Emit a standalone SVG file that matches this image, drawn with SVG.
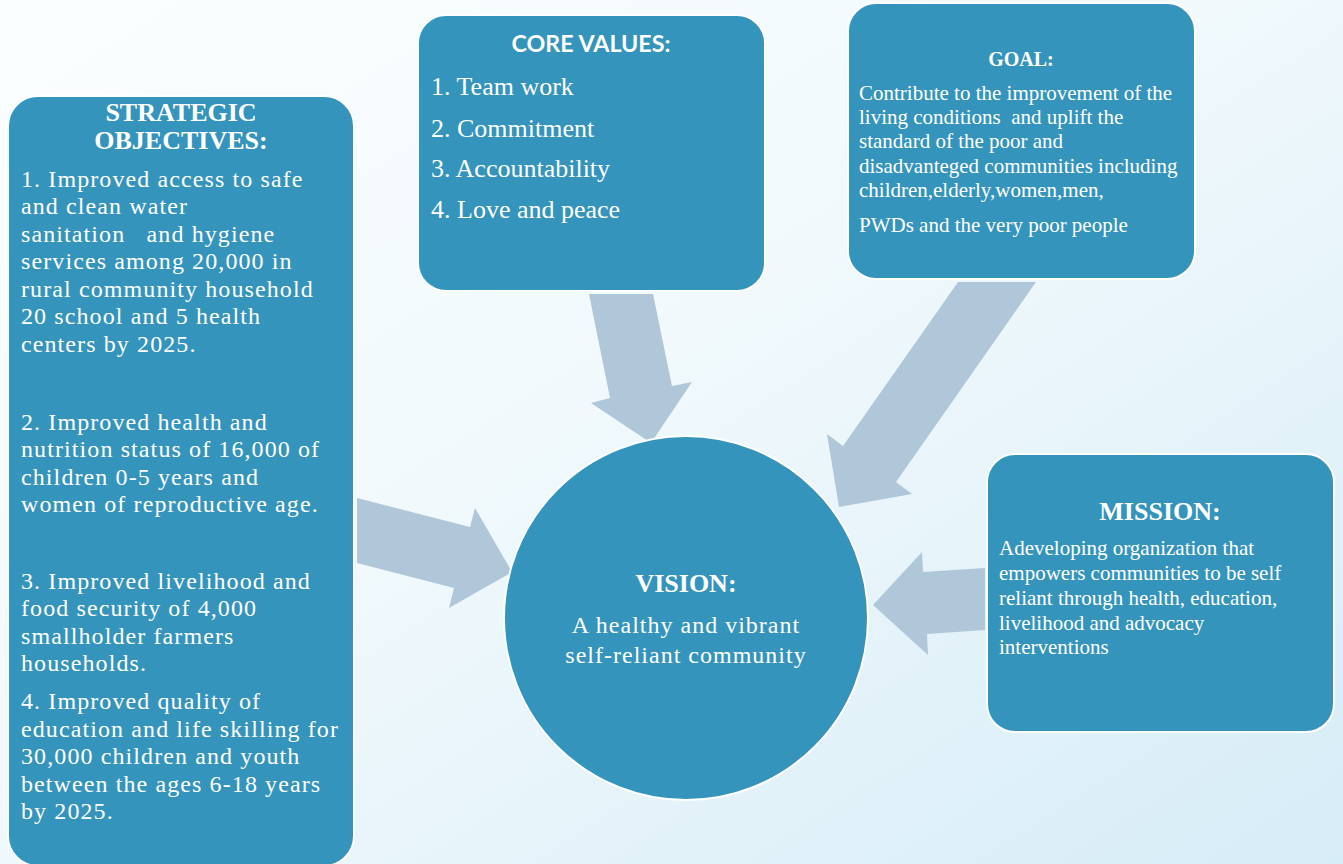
<svg xmlns="http://www.w3.org/2000/svg" width="1343" height="864" viewBox="0 0 1343 864">
<style>
.box{fill:#3594bb;stroke:#ffffff;stroke-width:2}
.arrow{fill:#afc7d8;stroke:none}
.t{font-family:"Liberation Serif","Times New Roman",serif;fill:#ffffff}
.h{font-weight:bold;text-anchor:middle}
.so{font-size:24px;letter-spacing:1.1px}
.cv{font-size:26px}
.gm{font-size:21px}
.vis{font-size:24px;letter-spacing:1px;text-anchor:middle}
.sans{font-family:"Lato","Open Sans","Liberation Sans",sans-serif;font-weight:bold;fill:#ffffff;text-anchor:middle}
</style>
<defs>
<linearGradient id="bg" x1="0" y1="0" x2="1" y2="1">
<stop offset="0" stop-color="#fbfeff"/>
<stop offset="0.45" stop-color="#f1f9fc"/>
<stop offset="1" stop-color="#d6ecf7"/>
</linearGradient>
</defs>
<rect x="0" y="0" width="1343" height="864" fill="url(#bg)"/>
<g id="connectors">
<polygon class="arrow" points="357,498 470,527 475,508 512,572 449,608 454,588 357,563"/>
<polygon class="arrow" points="589,294 653,294 672,386 692,382 651,443 591,403 610,398"/>
<polygon class="arrow" points="958,282 1036,282 896,482 912,494 839,507 827,434 843,446"/>
<polygon class="arrow" points="985,568 985,630 927,634 928,655 873,605 922,552 923,572"/>
</g>
<g id="strategic-objectives">
<rect class="box" x="8" y="96" width="346" height="770" rx="30"/>
<text class="t h" x="181" y="121" font-size="26">STRATEGIC</text>
<text class="t h" x="181" y="149" font-size="26">OBJECTIVES:</text>
<g class="t so">
<text x="21" y="187">1. Improved access to safe</text>
<text x="21" y="214">and clean water</text>
<text x="21" y="242" xml:space="preserve">sanitation   and hygiene</text>
<text x="21" y="269">services among 20,000 in</text>
<text x="21" y="297">rural community household</text>
<text x="21" y="324">20 school and 5 health</text>
<text x="21" y="352">centers by 2025.</text>
<text x="21" y="430">2. Improved health and</text>
<text x="21" y="457">nutrition status of 16,000 of</text>
<text x="21" y="485">children 0-5 years and</text>
<text x="21" y="512">women of reproductive age.</text>
<text x="21" y="589">3. Improved livelihood and</text>
<text x="21" y="616">food security of 4,000</text>
<text x="21" y="644">smallholder farmers</text>
<text x="21" y="671">households.</text>
<text x="21" y="709">4. Improved quality of</text>
<text x="21" y="737">education and life skilling for</text>
<text x="21" y="764">30,000 children and youth</text>
<text x="21" y="792">between the ages 6-18 years</text>
<text x="21" y="819">by 2025.</text>
</g>
</g>
<g id="core-values">
<rect class="box" x="418" y="15" width="347" height="276" rx="28"/>
<text class="sans" x="591" y="52" font-size="22" textLength="159" lengthAdjust="spacingAndGlyphs">CORE VALUES:</text>
<g class="t cv">
<text x="431" y="95">1. Team work</text>
<text x="431" y="137">2. Commitment</text>
<text x="431" y="177">3. Accountability</text>
<text x="431" y="218">4. Love and peace</text>
</g>
</g>
<g id="goal">
<rect class="box" x="848" y="3" width="347" height="276" rx="28"/>
<text class="t h" x="1021" y="66" font-size="20">GOAL:</text>
<g class="t gm">
<text x="859" y="100">Contribute to the improvement of the</text>
<text x="859" y="124" xml:space="preserve">living conditions  and uplift the</text>
<text x="859" y="148">standard of the poor and</text>
<text x="859" y="173">disadvanteged communities including</text>
<text x="859" y="197">children,elderly,women,men,</text>
<text x="859" y="232">PWDs and the very poor people</text>
</g>
</g>
<g id="mission">
<rect class="box" x="987" y="454" width="347" height="278" rx="28"/>
<text class="t h" x="1160" y="520" font-size="26">MISSION:</text>
<g class="t gm">
<text x="999" y="555">Adeveloping organization that</text>
<text x="999" y="580">empowers communities to be self</text>
<text x="999" y="605">reliant through health, education,</text>
<text x="999" y="630">livelihood and advocacy</text>
<text x="999" y="654">interventions</text>
</g>
</g>
<g id="vision">
<circle class="box" cx="686" cy="618" r="182"/>
<text class="t h" x="686" y="592" font-size="26">VISION:</text>
<text class="t vis" x="686" y="633">A healthy and vibrant</text>
<text class="t vis" x="686" y="663">self-reliant community</text>
</g>
</svg>
